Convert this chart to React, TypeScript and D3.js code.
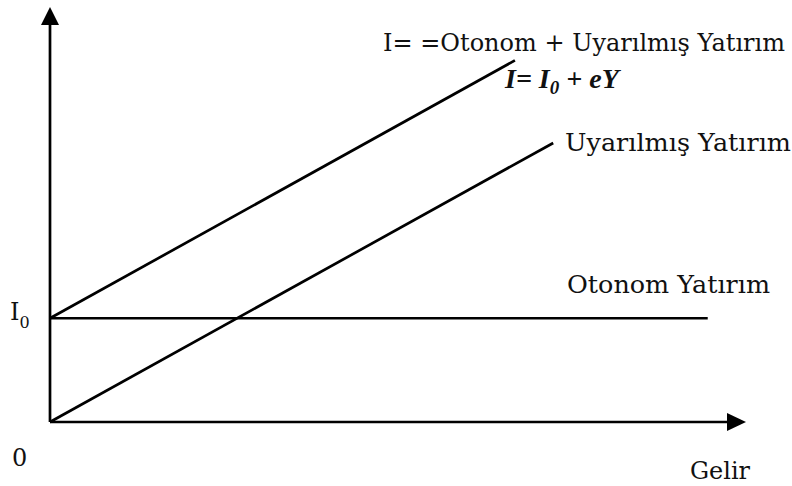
import React from "react";
import * as d3 from "d3";

// Data (abstract units)
const incomeDomain = [0, 100];
const investDomain = [0, 100];
const autonomousI0 = 25;
const slopeE = 0.93;
const upperLineEndY = 66.8; // income where I = I0 + eY line ends
const lowerLineEndY = 72.3; // income where induced line ends
const flatLineEndY = 94.5; // income where autonomous line ends

const labels = {
  total: "I= =Otonom + Uyarılmış Yatırım",
  induced: "Uyarılmış Yatırım",
  autonomous: "Otonom Yatırım",
  xAxis: "Gelir",
  origin: "0",
};

export default function App() {
  const W = 792, H = 486;
  const x = d3.scaleLinear().domain(incomeDomain).range([50, 746]);
  const y = d3.scaleLinear().domain(investDomain).range([422, 7]);
  const line = d3.line<[number, number]>().x(d => x(d[0])).y(d => y(d[1]));

  const upper: [number, number][] = [[0, autonomousI0], [upperLineEndY, autonomousI0 + slopeE * upperLineEndY]];
  const lower: [number, number][] = [[0, 0], [lowerLineEndY, slopeE * lowerLineEndY]];
  const flat: [number, number][] = [[0, autonomousI0], [flatLineEndY, autonomousI0]];

  const font = "'DejaVu Serif', serif";
  const x0 = x(0), y0 = y(0);
  const yTop = y(investDomain[1]);
  const xEnd = x(incomeDomain[1]);

  return (
    <svg width={W} height={H} style={{ position: "absolute", left: 0, top: 0, background: "#fff" }}>
      <g stroke="#000" strokeWidth={2.7} fill="none">
        <line x1={x0} y1={y0} x2={x0} y2={yTop + 14} />
        <line x1={x0} y1={y0} x2={xEnd - 14} y2={y0} />
        <path d={line(upper) || ""} />
        <path d={line(lower) || ""} />
        <path d={line(flat) || ""} />
      </g>
      <path d={`M${x0},${yTop} L${x0 - 9},${yTop + 18} L${x0 + 9},${yTop + 18} Z`} fill="#000" />
      <path d={`M${xEnd},${y0} L${xEnd - 19},${y0 - 9} L${xEnd - 19},${y0 + 9} Z`} fill="#000" />

      <g fontFamily={font} fontSize={24} fill="#111">
        <text x={383} y={51} textLength={402} lengthAdjust="spacingAndGlyphs">{labels.total}</text>
        <text x={505} y={88} fontFamily="'Liberation Serif', serif" fontSize={28} fontWeight="bold" fontStyle="italic">
          I= I<tspan fontSize={19} dy={6}>0</tspan><tspan dy={-6}> + eY</tspan>
        </text>
        <text x={565} y={151} textLength={226} lengthAdjust="spacingAndGlyphs">{labels.induced}</text>
        <text x={567} y={293} textLength={203} lengthAdjust="spacingAndGlyphs">{labels.autonomous}</text>
        <text x={10} y={320}>I<tspan fontSize={16} dy={8}>0</tspan></text>
        <text x={12} y={466}>{labels.origin}</text>
        <text x={690} y={479} textLength={60} lengthAdjust="spacingAndGlyphs">{labels.xAxis}</text>
      </g>
    </svg>
  );
}
